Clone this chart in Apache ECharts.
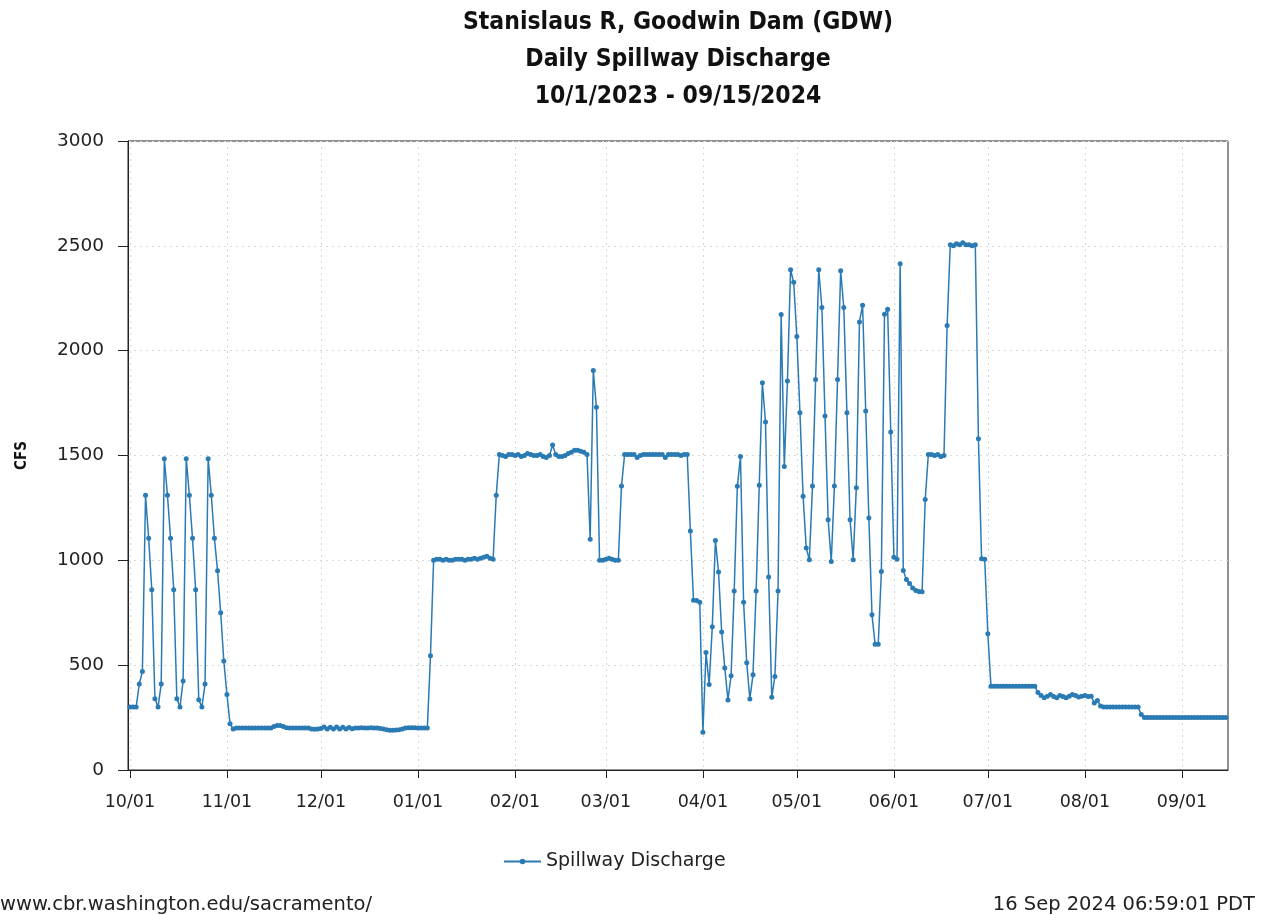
<!DOCTYPE html>
<html>
<head>
<meta charset="utf-8">
<title>Stanislaus R, Goodwin Dam (GDW) - Daily Spillway Discharge</title>
<script src="https://cdn.jsdelivr.net/npm/echarts@6/dist/echarts.min.js"></script>
<style>
  html, body { margin: 0; padding: 0; background: #fff; }
  #chart { width: 1265px; height: 915px; }
</style>
</head>
<body>
<div id="chart"></div>
<script>
// Daily spillway discharge (cfs), one array per month, water year starting 10/1/2023
const oct2023 = [300,300,300,410,470,1310,1105,860,340,300,410,1485,1310,1105,860,340,300,425,1485,1310,1105,860,335,300,410,1485,1310,1105,950,750,520];
const nov2023 = [360,220,195,200,200,200,200,200,200,200,200,200,200,200,200,208,212,212,208,202,200,200,200,200,200,200,200,196,194,196];
const dec2023 = [198,205,195,204,196,205,196,204,195,203,197,200,200,202,200,200,201,200,200,198,195,192,190,190,191,192,195,200,202,202,202];
const jan2024 = [200,200,200,200,545,1000,1005,1005,1000,1005,1000,1000,1005,1005,1005,1000,1005,1005,1010,1005,1010,1015,1020,1010,1005,1310,1505,1500,1495,1505,1505];
const feb2024 = [1500,1505,1495,1500,1510,1505,1500,1500,1505,1495,1490,1500,1550,1505,1495,1495,1500,1510,1515,1525,1525,1520,1515,1505,1100,1905,1730,1000,1000];
const mar2024 = [1005,1010,1005,1000,1000,1355,1505,1505,1505,1505,1490,1500,1505,1505,1505,1505,1505,1505,1505,1490,1505,1505,1505,1505,1500,1505,1505,1140,810,808,800];
const apr2024 = [180,560,408,683,1095,944,658,486,334,449,854,1353,1495,800,511,339,454,854,1358,1847,1660,920,347,446,854,2173,1448,1855,2386,2326];
const may2024 = [2067,1704,1306,1059,1003,1354,1863,2386,2206,1688,1194,995,1354,1863,2381,2206,1704,1194,1003,1346,2137,2217,1712,1202,740,600,600,947,2174,2198,1612];
const jun2024 = [1015,1005,2414,951,908,890,868,856,851,850,1290,1505,1505,1500,1505,1495,1500,2120,2505,2500,2510,2505,2515,2505,2505,2500,2505,1580,1007,1005];
const jul2024 = [650,400,400,400,400,400,400,400,400,400,400,400,400,400,400,400,370,355,345,352,360,350,345,355,350,345,352,360,355,348,352];
const aug2024 = [355,350,352,320,332,305,300,300,300,300,300,300,300,300,300,300,300,300,265,250,250,250,250,250,250,250,250,250,250,250,250];
const sep2024 = [250,250,250,250,250,250,250,250,250,250,250,250,250,250,250];

const monthlyValues = [oct2023, nov2023, dec2023, jan2024, feb2024, mar2024, apr2024, may2024, jun2024, jul2024, aug2024, sep2024];

// First day of the record and the month starts used for ticks
const startDate = [2023, 9, 1];          // year, zero-based month, day
const monthTicks = [
  [2023, 9, 1], [2023, 10, 1], [2023, 11, 1], [2024, 0, 1], [2024, 1, 1], [2024, 2, 1],
  [2024, 3, 1], [2024, 4, 1], [2024, 5, 1], [2024, 6, 1], [2024, 7, 1], [2024, 8, 1]
];
const yTicks = [0, 500, 1000, 1500, 2000, 2500, 3000];

const titleLines = ['Stanislaus R, Goodwin Dam (GDW)', 'Daily Spillway Discharge', '10/1/2023 - 09/15/2024'];
const seriesName = 'Spillway Discharge';
const footerLeft = 'www.cbr.washington.edu/sacramento/';
const footerRight = '16 Sep 2024 06:59:01 PDT';

// Pair every daily value with its date (epoch milliseconds)
const values = [].concat(...monthlyValues);
const seriesData = values.map((v, i) => [
  new Date(startDate[0], startDate[1], startDate[2] + i).getTime(), v
]);
const tickValues = monthTicks.map(t => new Date(t[0], t[1], t[2]).getTime());
const DAY = 86400000;
const xMin = seriesData[0][0] - 0.6 * DAY;
const xMax = seriesData[seriesData.length - 1][0] + 0.7 * DAY;

const pad2 = n => (n < 10 ? '0' : '') + n;
const FONT = 'DejaVu Sans';
const COND = 'DejaVu Sans Condensed, DejaVu Sans';
const LINE_COLOR = '#2a7ab4';
const GRID_LINE = { show: true, lineStyle: { color: '#d8d8d8', type: [2, 4], width: 1 } };

const chart = echarts.init(document.getElementById('chart'), null, { renderer: 'canvas' });
chart.setOption({
  animation: false,
  backgroundColor: '#ffffff',
  title: [
    {
      text: titleLines.join('\n'),
      left: 678, top: 4, padding: 0,
      textAlign: 'center',
      textStyle: { fontFamily: COND, fontWeight: 'bold', fontSize: 24.5, lineHeight: 37, color: '#111' }
    },
    {
      text: footerLeft, left: 0, top: 895, padding: 0,
      textStyle: { fontFamily: FONT, fontWeight: 'normal', fontSize: 19.5, color: '#222' }
    },
    {
      text: footerRight, right: 10, top: 895, padding: 0,
      textStyle: { fontFamily: FONT, fontWeight: 'normal', fontSize: 19.5, color: '#222' }
    }
  ],
  legend: {
    data: [seriesName],
    left: 503, top: 852, padding: 0,
    itemWidth: 37, itemHeight: 7,
    textStyle: { fontFamily: FONT, fontSize: 19, color: '#222' }
  },
  grid: {
    left: 128, right: 37, top: 141, bottom: 145,
    show: true, borderColor: '#222', borderWidth: 1,
    containLabel: false
  },
  xAxis: {
    type: 'value',
    min: xMin, max: xMax,
    axisLine: { show: true, onZero: false, lineStyle: { color: '#222', width: 1 } },
    axisTick: { show: true, length: 8, customValues: tickValues, lineStyle: { color: '#222' } },
    axisLabel: {
      customValues: tickValues,
      margin: 23,
      fontFamily: FONT, fontSize: 17.5, color: '#222',
      formatter: v => { const d = new Date(v); return pad2(d.getMonth() + 1) + '/' + pad2(d.getDate()); }
    },
    splitLine: GRID_LINE
  },
  yAxis: {
    type: 'value',
    min: yTicks[0], max: yTicks[yTicks.length - 1], interval: 500,
    name: 'CFS',
    nameLocation: 'middle', nameGap: 98, nameRotate: 90,
    nameTextStyle: { fontFamily: COND, fontWeight: 'bold', fontSize: 15, color: '#111' },
    axisLine: { show: true, lineStyle: { color: '#222', width: 1 } },
    axisTick: { show: true, length: 10, lineStyle: { color: '#222' } },
    axisLabel: { margin: 24, fontFamily: FONT, fontSize: 18.5, color: '#222', formatter: v => String(v) },
    splitLine: GRID_LINE
  },
  series: [{
    name: seriesName,
    type: 'line',
    data: seriesData,
    showSymbol: true,
    symbol: 'circle',
    symbolSize: 5,
    lineStyle: { color: LINE_COLOR, width: 1.5 },
    itemStyle: { color: LINE_COLOR },
    emphasis: { disabled: true }
  }]
});
</script>
</body>
</html>
